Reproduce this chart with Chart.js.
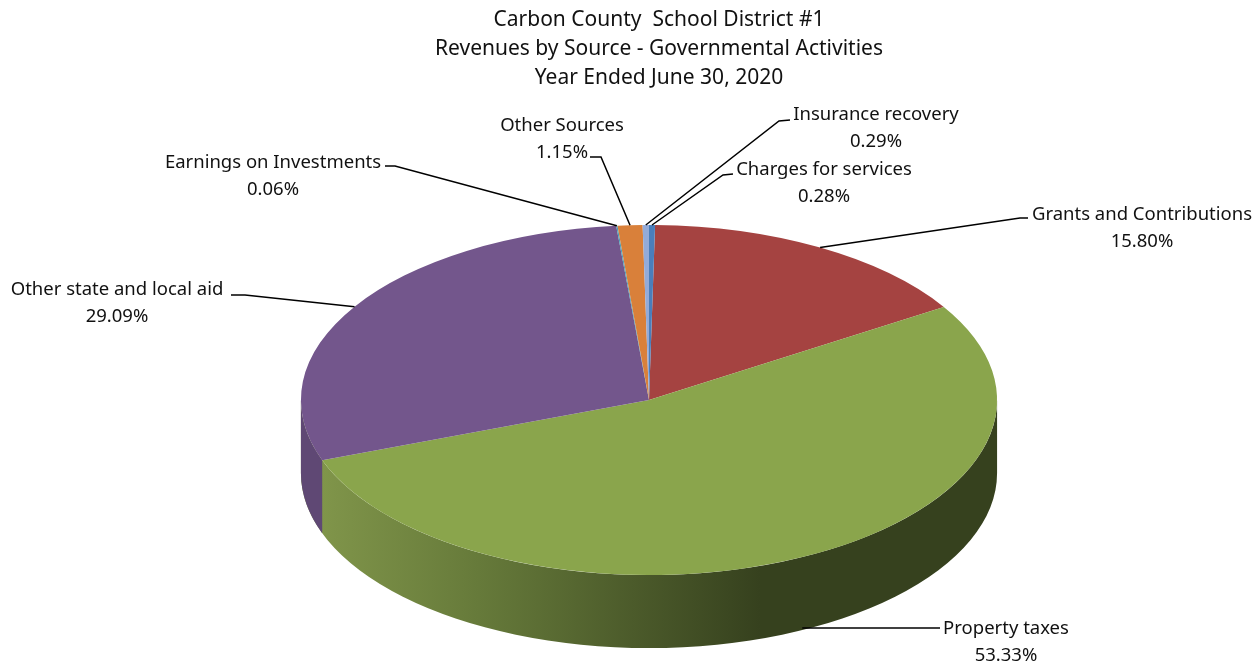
<!DOCTYPE html>
<html>
<head>
<meta charset="utf-8">
<style>html,body{margin:0;padding:0;background:#fff}canvas{display:block}</style>
<script src="https://cdn.jsdelivr.net/npm/chart.js@4/dist/chart.umd.min.js"></script>
</head>
<body>
<canvas id="pie" width="1260" height="667"></canvas>
<script>
const categories = ["Grants and Contributions", "Property taxes", "Other state and local aid", "Earnings on Investments", "Other Sources", "Insurance recovery", "Charges for services"];
const shares = [15.80, 53.33, 29.09, 0.06, 1.15, 0.29, 0.28];
const sliceColors = ["#A54341", "#8AA54C", "#73568C", "#4BA0B8", "#D9803A", "#93ABD9", "#4A7EBB"];
const titleLines = ["Carbon County  School District #1", "Revenues by Source - Governmental Activities", "Year Ended June 30, 2020"];

// Tilted-disc projection of the flat pie
const DISC = { centerX: 649, stretchX: 1.989, depth: 73 };

// Where each callout text sits and where its leader bends
const callouts = [
  { x: 1142, y: 215, elbows: [[1028, 218], [1020, 218]] },
  { x: 1006, y: 629, elbows: [[940, 628]], drop: 71 },
  { x: 117, y: 290, elbows: [[231, 295], [245, 295]] },
  { x: 273, y: 163, elbows: [[385, 166], [395, 166]] },
  { x: 562, y: 126, elbows: [[590, 157], [601, 157]] },
  { x: 876, y: 115, elbows: [[790, 120], [779, 121]] },
  { x: 824, y: 170, elbows: [[733, 174], [723, 175]] }
];

const FONT = '18.5px "Noto Sans"';

function sliceGeometry(chart) {
  return chart.getDatasetMeta(0).data.map(arc => arc.getProps(['x', 'y', 'startAngle', 'endAngle', 'outerRadius'], true));
}

const tiltedDisc = {
  id: 'tiltedDisc',
  beforeDatasetsDraw(chart) {
    const { ctx } = chart;
    const geo = sliceGeometry(chart);
    const cx = DISC.centerX, cy = geo[0].y;
    const rx = geo[0].outerRadius * DISC.stretchX, ry = geo[0].outerRadius;
    const wallFill = ctx.createLinearGradient(321, 0, 760, 0);
    wallFill.addColorStop(0, '#80954A');
    wallFill.addColorStop(0.36, '#667A3A');
    wallFill.addColorStop(1, '#36411E');
    const wallFills = { 1: wallFill, 2: '#5F4874' };
    geo.forEach((g, i) => {
      if (!wallFills[i]) return;
      // Only the part of a slice facing the viewer shows its side wall
      const norm = a => ((a % (2 * Math.PI)) + 2 * Math.PI) % (2 * Math.PI);
      let a0 = norm(g.startAngle), a1 = a0 + (g.endAngle - g.startAngle);
      a1 = Math.min(a1, Math.PI);
      if (a0 >= Math.PI) a0 = 0;
      ctx.beginPath();
      ctx.ellipse(cx, cy + DISC.depth, rx, ry, 0, a0, a1);
      ctx.ellipse(cx, cy, rx, ry, 0, a1, a0, true);
      ctx.closePath();
      ctx.fillStyle = wallFills[i];
      ctx.fill();
    });
    ctx.save();
    ctx.translate(cx, cy);
    ctx.scale(DISC.stretchX, 1);
    ctx.translate(-geo[0].x, -cy);
  },
  afterDatasetsDraw(chart) {
    const { ctx } = chart;
    ctx.restore();
    const geo = sliceGeometry(chart);
    ctx.font = FONT;
    ctx.textAlign = 'center';
    ctx.textBaseline = 'middle';
    geo.forEach((g, i) => {
      const c = callouts[i];
      const mid = (g.startAngle + g.endAngle) / 2;
      const rx = g.outerRadius * DISC.stretchX, ry = g.outerRadius;
      const ax = DISC.centerX + rx * Math.cos(mid);
      const ay = g.y + ry * Math.sin(mid) + (c.drop || 0);
      ctx.beginPath();
      ctx.moveTo(ax, ay);
      c.elbows.slice().reverse().forEach(p => ctx.lineTo(p[0], p[1]));
      ctx.strokeStyle = '#000';
      ctx.lineWidth = 1.5;
      ctx.stroke();
      ctx.fillStyle = '#111';
      ctx.fillText(categories[i], c.x, c.y);
      ctx.fillText(shares[i].toFixed(2) + '%', c.x, c.y + 27);
    });
  }
};

new Chart(document.getElementById('pie'), {
  type: 'pie',
  data: {
    labels: categories,
    datasets: [{ data: shares, backgroundColor: sliceColors, borderWidth: 0 }]
  },
  options: {
    responsive: false,
    animation: false,
    rotation: 1,
    layout: { padding: { left: 58, right: 0, top: 6, bottom: 92 } },
    plugins: {
      legend: { display: false },
      tooltip: { enabled: false },
      title: {
        display: true,
        text: titleLines,
        color: '#111',
        font: { family: '"Noto Sans"', size: 21, weight: 'normal', lineHeight: '29px' },
        padding: { top: 0, bottom: 132 }
      }
    }
  },
  plugins: [tiltedDisc]
});
</script>
</body>
</html>
